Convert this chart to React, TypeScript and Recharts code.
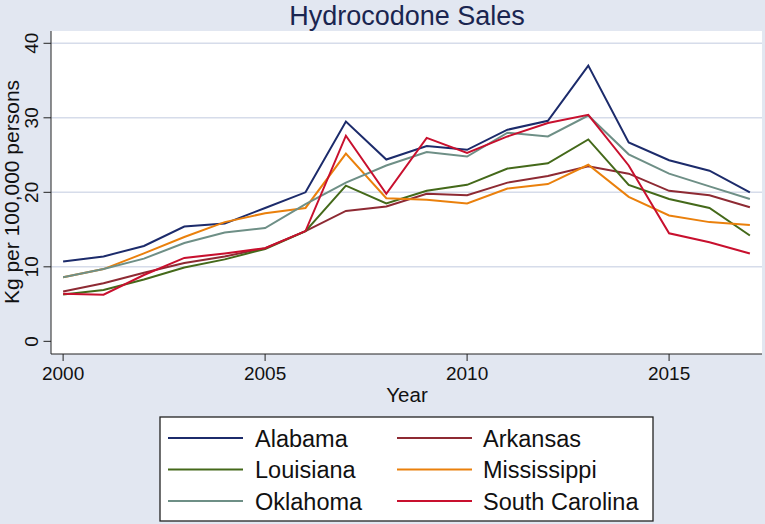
import { LineChart, Line, XAxis, YAxis, CartesianGrid, ReferenceLine } from "recharts";

// Hydrocodone sales, kg per 100,000 persons
const years = [2000, 2001, 2002, 2003, 2004, 2005, 2006, 2007, 2008, 2009, 2010, 2011, 2012, 2013, 2014, 2015, 2016, 2017];

const alabama = [10.7, 11.4, 12.8, 15.4, 15.8, 17.9, 20.0, 29.5, 24.4, 26.2, 25.7, 28.4, 29.6, 37.0, 26.7, 24.3, 22.9, 20.0];
const arkansas = [6.7, 7.8, 9.2, 10.5, 11.4, 12.5, 14.8, 17.5, 18.1, 19.8, 19.6, 21.3, 22.2, 23.5, 22.5, 20.2, 19.6, 18.0];
const louisiana = [6.3, 6.9, 8.3, 9.9, 11.0, 12.4, 14.8, 20.9, 18.5, 20.2, 21.0, 23.2, 23.9, 27.1, 21.0, 19.1, 17.9, 14.2];
const mississippi = [8.6, 9.7, 11.8, 14.0, 16.0, 17.2, 17.9, 25.2, 19.2, 19.0, 18.5, 20.5, 21.1, 23.7, 19.4, 16.9, 16.0, 15.6];
const oklahoma = [8.6, 9.7, 11.1, 13.2, 14.6, 15.2, 18.4, 21.3, 23.6, 25.4, 24.8, 28.0, 27.5, 30.3, 25.1, 22.5, 20.8, 19.1];
const southCarolina = [6.4, 6.25, 8.9, 11.2, 11.8, 12.5, 14.8, 27.6, 19.8, 27.3, 25.3, 27.5, 29.3, 30.4, 23.6, 14.5, 13.3, 11.8];

const yTicks = [0, 10, 20, 30, 40];
const gridValues = [10, 20, 30, 40];
const xTicks = [2000, 2005, 2010, 2015];

const series = [
    { key: "alabama", name: "Alabama", color: "#1c2b6b", values: alabama },
    { key: "arkansas", name: "Arkansas", color: "#8e2a33", values: arkansas },
    { key: "louisiana", name: "Louisiana", color: "#44691a", values: louisiana },
    { key: "mississippi", name: "Mississippi", color: "#ea800c", values: mississippi },
    { key: "oklahoma", name: "Oklahoma", color: "#6e8f86", values: oklahoma },
    { key: "southCarolina", name: "South Carolina", color: "#c8102e", values: southCarolina },
];

const data = years.map((year, i) => {
    const row: Record<string, number> = { year };
    series.forEach((s) => {
        row[s.key] = s.values[i];
    });
    return row;
});

const FONT = "'Liberation Sans', Arial, sans-serif";
const BG = "#e2e7f1";

// Stata-style rotated y tick labels
const YTick = ({ x, y, payload }: any) => (
    <text
        x={x}
        y={y}
        transform={`rotate(-90, ${x}, ${y})`}
        textAnchor="middle"
        fontSize={19}
        fontFamily={FONT}
        fill="#111"
    >
        {payload.value}
    </text>
);

export default function App() {
    return (
        <div style={{ position: "absolute", left: 0, top: 0, width: 765, height: 524, background: BG }}>
            <LineChart
                width={765}
                height={524}
                data={data}
                margin={{ top: 31, right: 3, bottom: 130, left: 0 }}
            >
                <CartesianGrid fill="#ffffff" horizontal={false} vertical={false} />
                {gridValues.map((v) => (
                    <ReferenceLine key={v} y={v} stroke="#d6dcea" strokeWidth={1.5} />
                ))}
                <XAxis
                    dataKey="year"
                    type="number"
                    domain={[1999.7, 2017.3]}
                    ticks={xTicks}
                    allowDataOverflow
                    height={40}
                    tickSize={7}
                    tickMargin={6}
                    stroke="#222"
                    tick={{ fontSize: 19, fontFamily: FONT, fill: "#111" }}
                />
                <YAxis
                    type="number"
                    domain={[-1.7, 41.65]}
                    ticks={yTicks}
                    allowDataOverflow
                    width={51}
                    tickSize={7.5}
                    tickMargin={5}
                    stroke="#222"
                    tick={<YTick />}
                />
                {series.map((s) => (
                    <Line
                        key={s.key}
                        dataKey={s.key}
                        name={s.name}
                        stroke={s.color}
                        strokeWidth={2}
                        dot={false}
                        type="linear"
                        isAnimationActive={false}
                    />
                ))}

                {/* Title and axis titles */}
                <text x={407} y={24.5} textAnchor="middle" fontSize={27} fontFamily={FONT} fill="#1a2550">
                    Hydrocodone Sales
                </text>
                <text x={407} y={402} textAnchor="middle" fontSize={20.5} fontFamily={FONT} fill="#111">
                    Year
                </text>
                <text
                    x={19}
                    y={192}
                    transform="rotate(-90, 19, 192)"
                    textAnchor="middle"
                    fontSize={21}
                    fontFamily={FONT}
                    fill="#111"
                >
                    Kg per 100,000 persons
                </text>

                {/* Legend */}
                <rect x={160} y={417} width={493} height={104} fill="#ffffff" stroke="#222" strokeWidth={1.3} />
                {series.map((s, i) => {
                    const col = i % 2;
                    const row = Math.floor(i / 2);
                    const lx = col === 0 ? 168 : 397;
                    const tx = col === 0 ? 255 : 483;
                    const ly = 438 + row * 31.5;
                    return (
                        <g key={s.key}>
                            <line x1={lx} x2={lx + 75} y1={ly} y2={ly} stroke={s.color} strokeWidth={2} />
                            <text x={tx} y={ly + 8.7} fontSize={23.5} fontFamily={FONT} fill="#111">
                                {s.name}
                            </text>
                        </g>
                    );
                })}
            </LineChart>
        </div>
    );
}
